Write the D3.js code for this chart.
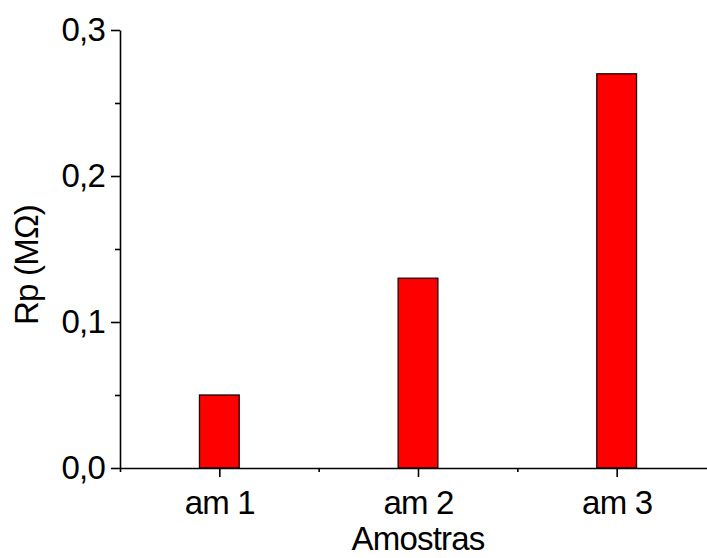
<!DOCTYPE html>
<html>
<head>
<meta charset="utf-8">
<script src="https://cdn.jsdelivr.net/npm/d3@7"></script>
<style>
  body { margin: 0; background: #fff; }
  svg { display: block; }
</style>
</head>
<body>
<script>
// data
const categories = ["am 1", "am 2", "am 3"];
const values = [0.05, 0.13, 0.27];
const yTicks = [0, 0.1, 0.2, 0.3];
const yMinorTicks = [0.05, 0.15, 0.25];
const xMinorTicks = [0.5, 1.5, 2.5, 3.5];

const width = 707;
const height = 558;
const font = "'Liberation Sans', Arial, sans-serif";

const svg = d3.select("body").append("svg")
    .attr("width", width)
    .attr("height", height)
    .style("font-family", font)
    .style("letter-spacing", "-0.8px");

const x = d3.scaleLinear().domain([0.5, 3.5]).range([120, 716]);
const y = d3.scaleLinear().domain([0, 0.3]).range([468, 30]);

const comma = d => d3.format(".1f")(d).replace(".", ",");

// bars
svg.append("g")
  .selectAll("rect")
  .data(values)
  .join("rect")
    .attr("x", (d, i) => x(i + 1 - 0.1))
    .attr("width", x(1.1) - x(0.9))
    .attr("y", d => y(d))
    .attr("height", d => y(0) - y(d))
    .attr("fill", "#ff0000")
    .attr("stroke", "#1a0000")
    .attr("stroke-width", 1.3);

// y axis
svg.append("g")
    .attr("transform", `translate(${x(0.5)},0)`)
    .call(d3.axisLeft(y).tickValues(yTicks).tickFormat(comma).tickSize(9).tickSizeOuter(0).tickPadding(6));
svg.append("g")
    .attr("transform", `translate(${x(0.5)},0)`)
    .call(d3.axisLeft(y).tickValues(yMinorTicks).tickFormat("").tickSize(5).tickSizeOuter(0))
    .call(g => g.select(".domain").remove());

// x axis
svg.append("g")
    .attr("transform", `translate(0,${y(0)})`)
    .call(d3.axisBottom(x).tickValues([1, 2, 3]).tickFormat(d => categories[d - 1]).tickSize(9).tickSizeOuter(0).tickPadding(14));
svg.append("g")
    .attr("transform", `translate(0,${y(0)})`)
    .call(d3.axisBottom(x).tickValues(xMinorTicks).tickFormat("").tickSize(4).tickSizeOuter(0))
    .call(g => g.select(".domain").remove());

svg.selectAll(".domain, .tick line")
    .attr("stroke", "#000")
    .attr("stroke-width", 1.6);

svg.selectAll(".tick text")
    .attr("fill", "#000")
    .style("font-family", font)
    .style("font-size", "33px");

// axis titles
svg.append("text")
    .attr("x", x(2))
    .attr("y", 550)
    .attr("text-anchor", "middle")
    .style("font-size", "33px")
    .text("Amostras");

svg.append("text")
    .attr("transform", `translate(38,265) rotate(-90)`)
    .attr("text-anchor", "middle")
    .style("font-size", "33px")
    .text("Rp (MΩ)");
</script>
</body>
</html>
